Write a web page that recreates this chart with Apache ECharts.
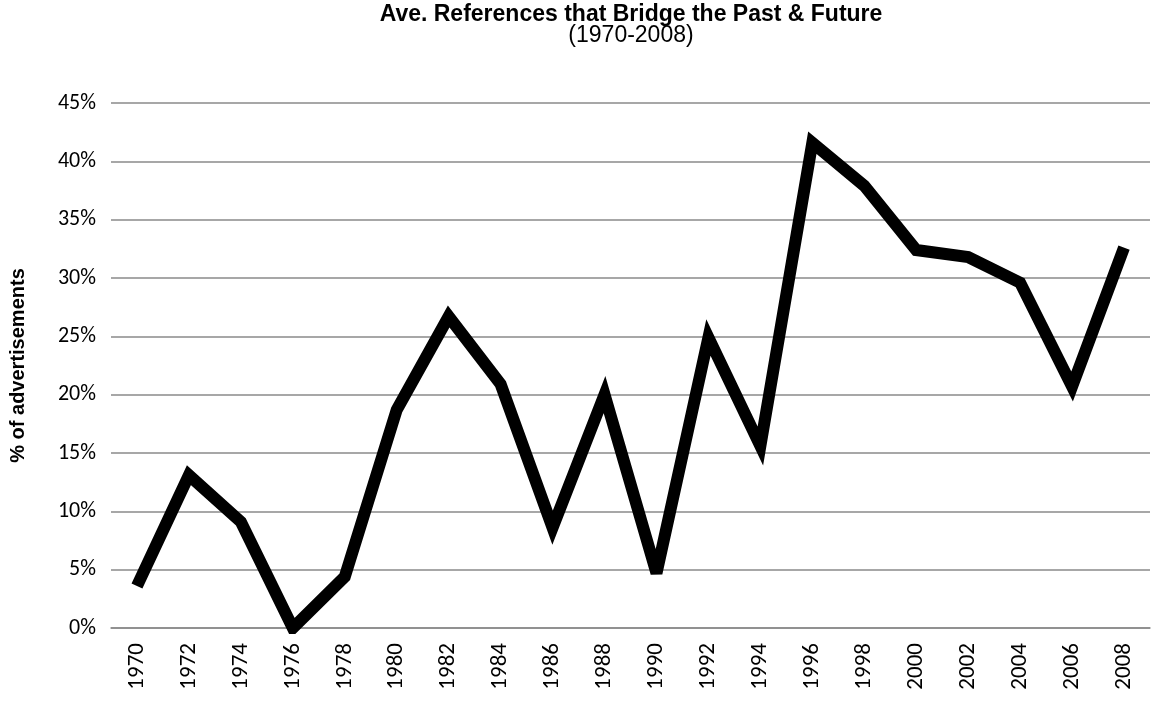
<!DOCTYPE html>
<html>
<head>
<meta charset="utf-8">
<script src="https://cdn.jsdelivr.net/npm/echarts@6/dist/echarts.min.js"></script>
<style>
  html, body { margin: 0; padding: 0; background: #fff; }
  #chart { width: 1151px; height: 702px; }
</style>
</head>
<body>
<div id="chart"></div>
<script>
// Survey years (every second year)
const years = ['1970', '1972', '1974', '1976', '1978', '1980', '1982', '1984', '1986', '1988',
               '1990', '1992', '1994', '1996', '1998', '2000', '2002', '2004', '2006', '2008'];
// Average share of advertisements bridging past & future, in percent
const bridgeShare = [3.6, 13.1, 9.1, 0, 4.4, 18.7, 26.7, 20.9, 8.6, 20.0,
                     4.7, 24.9, 15.6, 41.6, 37.9, 32.4, 31.8, 29.6, 20.7, 32.6];

const titleText = 'Ave. References that Bridge the Past & Future';
const subtitleText = '(1970-2008)';
const yAxisTitle = '% of advertisements';

const tickFont = 'Carlito, Calibri, Lato, sans-serif';
const gridColor = '#8a8a8a';

const chart = echarts.init(document.getElementById('chart'), null, { renderer: 'canvas' });

chart.setOption({
  backgroundColor: '#ffffff',
  animation: false,
  title: {
    text: titleText,
    subtext: subtitleText,
    left: 631,
    textAlign: 'center',
    top: 3,
    padding: 0,
    itemGap: -3,
    textStyle: {
      fontFamily: 'Liberation Sans, Arial, sans-serif',
      fontWeight: 'bold',
      fontSize: 23,
      lineHeight: 24,
      color: '#000'
    },
    subtextStyle: {
      fontFamily: 'Liberation Sans, Arial, sans-serif',
      fontSize: 23,
      lineHeight: 24,
      color: '#000'
    }
  },
  grid: { left: 111, right: 1, top: 103, bottom: 74, containLabel: false },
  xAxis: {
    type: 'category',
    data: years,
    boundaryGap: true,
    axisLine: { show: true, lineStyle: { color: gridColor, width: 1.5 } },
    axisTick: { show: false },
    axisLabel: {
      rotate: 90,
      margin: 15,
      fontFamily: tickFont,
      fontSize: 23,
      color: '#000'
    }
  },
  yAxis: {
    type: 'value',
    min: 0,
    max: 45,
    interval: 5,
    name: yAxisTitle,
    nameLocation: 'middle',
    nameGap: 83,
    nameRotate: 90,
    nameTextStyle: {
      fontFamily: 'Liberation Sans, Arial, sans-serif',
      fontWeight: 'bold',
      fontSize: 20,
      color: '#000'
    },
    axisLine: { show: false },
    axisTick: { show: false },
    axisLabel: {
      formatter: '{value}%',
      margin: 15,
      fontFamily: tickFont,
      fontSize: 22,
      color: '#000'
    },
    splitLine: { show: true, lineStyle: { color: gridColor, width: 1.5 } }
  },
  series: [{
    type: 'line',
    data: bridgeShare,
    symbol: 'none',
    smooth: false,
    lineStyle: {
      color: '#000',
      width: 12,
      join: 'miter',
      cap: 'butt',
      miterLimit: 3.3
    }
  }]
});
</script>
</body>
</html>
